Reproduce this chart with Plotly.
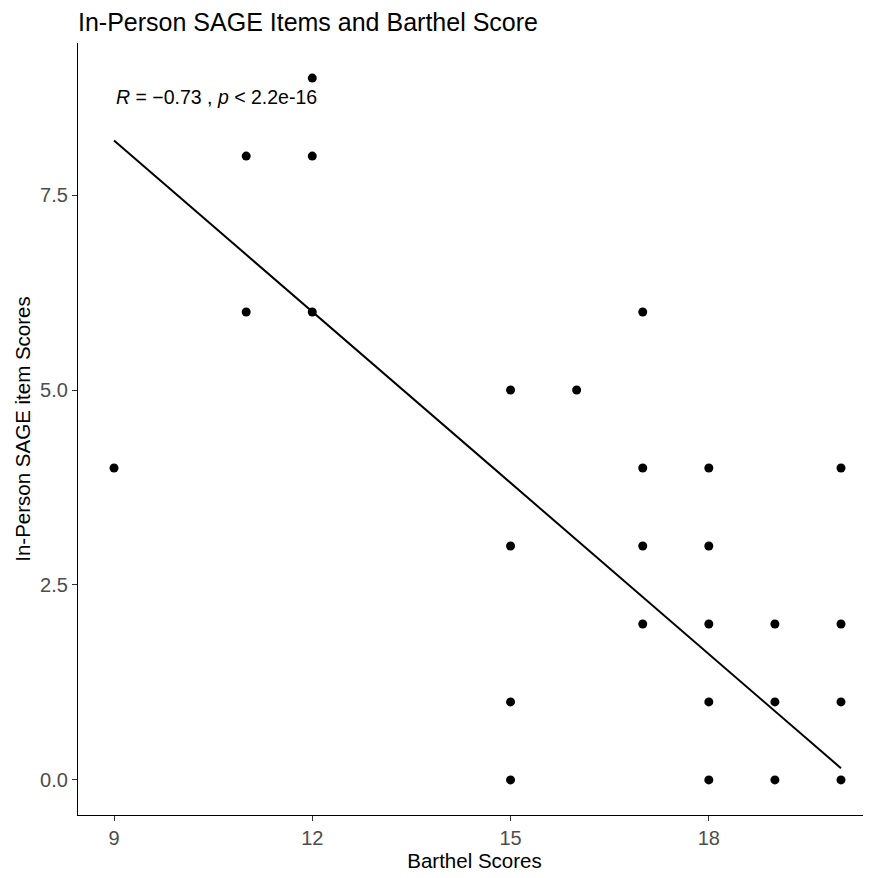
import plotly.graph_objects as go

barthel = [9, 11, 11, 12, 12, 12, 15, 15, 15, 15, 16, 17, 17, 17, 17,
           18, 18, 18, 18, 18, 19, 19, 19, 20, 20, 20, 20]
sage = [4, 8, 6, 9, 8, 6, 5, 3, 1, 0, 5, 6, 4, 3, 2,
        4, 3, 2, 1, 0, 2, 1, 0, 4, 2, 1, 0]
fit_x = [9, 20]
fit_y = [8.2, 0.15]

x_ticks = [9, 12, 15, 18]
y_ticks = [0, 2.5, 5, 7.5]
y_ticklabels = ["0.0", "2.5", "5.0", "7.5"]

FONT = "Liberation Sans, Arial"

fig = go.Figure()
fig.add_trace(go.Scatter(x=fit_x, y=fit_y, mode="lines",
                         line=dict(color="black", width=2), showlegend=False,
                         hoverinfo="skip"))
fig.add_trace(go.Scatter(x=barthel, y=sage, mode="markers",
                         marker=dict(color="black", size=9), showlegend=False))

fig.add_annotation(x=9, y=8.76, xref="x", yref="y", xanchor="left", yanchor="middle",
                   text="<i>R</i> = \u22120.73 , <i>p</i> < 2.2e-16", showarrow=False,
                   font=dict(family=FONT, size=19.5, color="black"))

axis_common = dict(showgrid=False, zeroline=False, showline=True, linecolor="black",
                   linewidth=1.2, ticks="outside", ticklen=5, tickcolor="#333333",
                   tickwidth=1.2,
                   tickfont=dict(family=FONT, size=20, color="#4D4D4D"),
                   title_font=dict(family=FONT, size=20.5, color="black"))

fig.update_xaxes(range=[8.455, 20.454], tickvals=x_ticks,
                 ticktext=[str(v) for v in x_ticks],
                 title_text="Barthel Scores", title_standoff=5, **axis_common)
fig.update_yaxes(range=[-0.45, 9.45], tickvals=y_ticks, ticktext=y_ticklabels,
                 title_text="In-Person SAGE item Scores", title_standoff=3, **axis_common)

# page body has an 8px margin; the figure is shifted to compensate
fig.update_layout(
    width=863, height=870,
    margin=dict(l=70, r=0, t=35, b=63),
    paper_bgcolor="white", plot_bgcolor="white",
    title=dict(text="In-Person SAGE Items and Barthel Score", x=70/863, xanchor="left",
               y=1 - 14/870, yanchor="middle",
               font=dict(family=FONT, size=25, color="black")),
)

fig.write_html("out.html")
